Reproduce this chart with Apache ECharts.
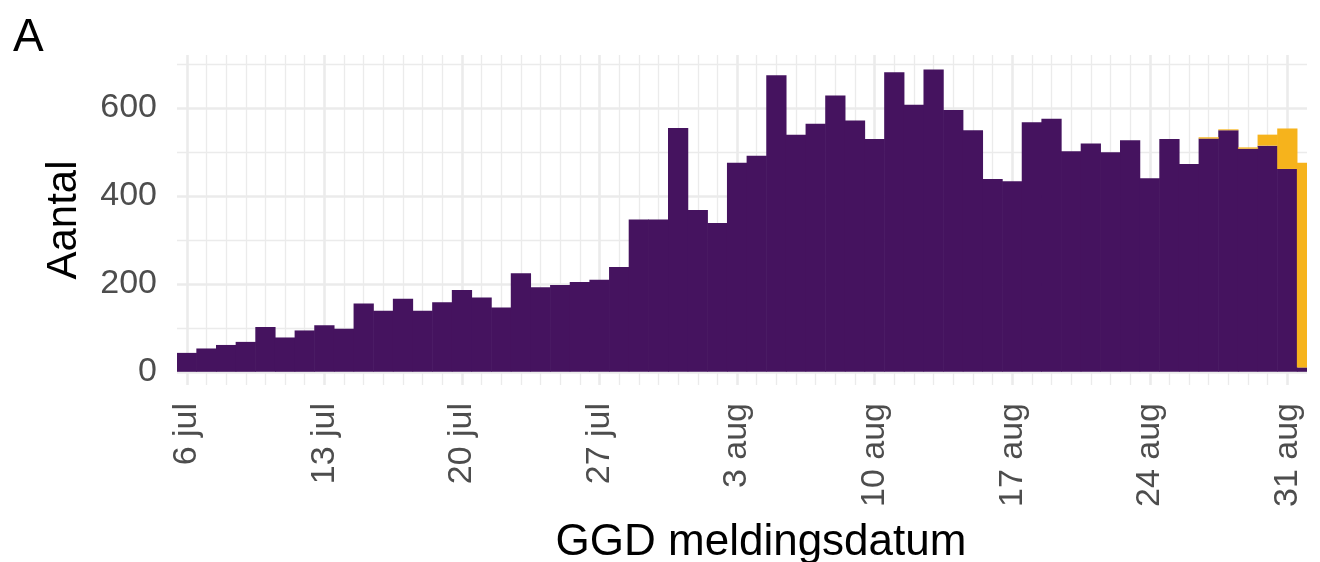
<!DOCTYPE html>
<html>
<head>
<meta charset="utf-8">
<script src="https://cdn.jsdelivr.net/npm/echarts@6/dist/echarts.min.js"></script>
<style>
  html, body { margin: 0; padding: 0; background: #fff; }
  #main { width: 1320px; height: 562px; }
</style>
</head>
<body>
<div id="main"></div>
<script>
// dagen vanaf 6 jul (index 0) t/m 1 sep (index 57)
var paars = [43, 53, 61, 68, 102, 78, 94, 106, 98, 155,
  139, 166, 139, 158, 186, 169, 146, 224, 192, 197,
  204, 209, 238, 346, 346, 554, 368, 338, 475, 491,
  674, 539, 564, 628, 571, 529, 681, 607, 687, 595,
  549, 438, 433, 567, 575, 501, 519, 499, 526, 440,
  529, 472, 530, 549, 507, 514, 461, 10];
var oranje = [0, 0, 0, 0, 0, 0, 0, 0, 0, 0,
  0, 0, 0, 0, 0, 0, 0, 0, 0, 0,
  0, 0, 0, 0, 0, 0, 0, 0, 0, 0,
  0, 0, 0, 0, 0, 0, 0, 0, 0, 0,
  0, 0, 0, 0, 0, 0, 0, 0, 0, 0,
  0, 0, 3, 2, 3, 25, 92, 465];

var xTickDagen = [0, 7, 14, 21, 28, 35, 42, 49, 56];
var xTickLabels = ['6 jul', '13 jul', '20 jul', '27 jul', '3 aug', '10 aug', '17 aug', '24 aug', '31 aug'];
var yTicks = [0, 200, 400, 600];
var yMinor = [100, 300, 500, 700];

var font = 'Liberation Sans, Arial, sans-serif';
var chartDom = document.getElementById('main');
var myChart = echarts.init(chartDom);

// rasterlijnen (achter de staven)
var gridLines = [];
for (var d = 0; d <= 56; d++) {
  var major = d % 7 === 0;
  gridLines.push({ xAxis: d, lineStyle: { color: '#ebebeb', width: major ? 2.6 : 1.3, type: 'solid' } });
}
yTicks.forEach(function (v) {
  gridLines.push({ yAxis: v, lineStyle: { color: '#ebebeb', width: 2.6, type: 'solid' } });
});
yMinor.forEach(function (v) {
  gridLines.push({ yAxis: v, lineStyle: { color: '#ebebeb', width: 1.3, type: 'solid' } });
});

// staaf van [dag, onder, boven] via de assen tekenen
function renderStaaf(params, api) {
  var dag = api.value(0);
  var p0 = api.coord([dag - 0.5, api.value(1)]);
  var p1 = api.coord([dag + 0.5, api.value(2)]);
  var rect = echarts.graphic.clipRectByRect({
    x: p0[0] - 0.3,
    y: p1[1],
    width: p1[0] - p0[0] + 0.6,
    height: p0[1] - p1[1]
  }, {
    x: params.coordSys.x,
    y: params.coordSys.y,
    width: params.coordSys.width,
    height: params.coordSys.height
  });
  if (!rect || rect.height <= 0) return;
  return { type: 'rect', shape: rect, style: { fill: api.visual('color') } };
}

var paarsData = paars.map(function (v, i) { return [i, 0, v]; });
var oranjeData = oranje.map(function (v, i) { return [i, paars[i], paars[i] + v]; });

var option = {
  animation: false,
  title: {
    text: 'A',
    left: 8,
    top: 10,
    textStyle: { fontFamily: font, fontSize: 46, fontWeight: 'normal', color: '#000' }
  },
  grid: { left: 177, right: 13, top: 55, bottom: 177, containLabel: false, outerBoundsMode: 'none' },
  xAxis: {
    type: 'value',
    min: -0.5,
    max: 57,
    name: 'GGD meldingsdatum',
    nameLocation: 'middle',
    nameGap: 136,
    nameTextStyle: { fontFamily: font, fontSize: 44, color: '#000', padding: [0, 0, 0, 38] },
    axisLine: { show: false },
    axisTick: { show: false },
    splitLine: { show: false },
    axisLabel: {
      customValues: xTickDagen,
      rotate: 90,
      margin: 18,
      fontFamily: font,
      fontSize: 34,
      color: '#4d4d4d',
      formatter: function (v) {
        var i = xTickDagen.indexOf(Math.round(v));
        return i >= 0 ? xTickLabels[i] : '';
      }
    }
  },
  yAxis: {
    type: 'value',
    min: -30,
    max: 720,
    name: 'Aantal',
    nameLocation: 'middle',
    nameGap: 92,
    nameRotate: 90,
    nameTextStyle: { fontFamily: font, fontSize: 42, color: '#000' },
    axisLine: { show: false },
    axisTick: { show: false },
    splitLine: { show: false },
    axisLabel: {
      customValues: yTicks,
      margin: 20,
      fontFamily: font,
      fontSize: 34,
      color: '#4d4d4d'
    }
  },
  series: [
    {
      type: 'line',
      data: [],
      silent: true,
      z: 1,
      markLine: {
        z: 1,
        silent: true,
        symbol: 'none',
        animation: false,
        label: { show: false },
        emphasis: { disabled: true },
        data: gridLines
      }
    },
    {
      name: 'paars',
      type: 'custom',
      z: 3,
      renderItem: renderStaaf,
      itemStyle: { color: '#45135f' },
      encode: { x: 0, y: [1, 2] },
      data: paarsData
    },
    {
      name: 'oranje',
      type: 'custom',
      z: 3,
      renderItem: renderStaaf,
      itemStyle: { color: '#f6b31c' },
      encode: { x: 0, y: [1, 2] },
      data: oranjeData
    }
  ]
};

option && myChart.setOption(option);
</script>
</body>
</html>
